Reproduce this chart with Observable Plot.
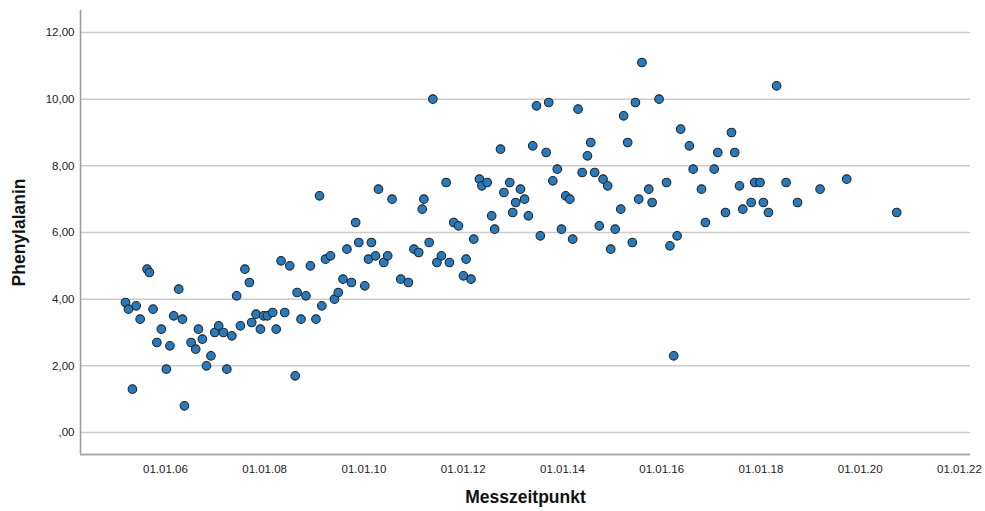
<!DOCTYPE html>
<html>
<head>
<meta charset="utf-8">
<script src="https://cdn.jsdelivr.net/npm/d3@7"></script>
<script src="https://cdn.jsdelivr.net/npm/@observablehq/plot@0.6"></script>
<style>
  html, body { margin: 0; padding: 0; background: #ffffff; }
  #chart { width: 985px; height: 511px; }
</style>
</head>
<body>
<div id="chart"></div>
<script>
const dates = [
  "2005-03-13","2005-04-04","2005-05-03","2005-05-31","2005-06-29","2005-08-19","2005-09-05","2005-10-02","2005-10-30","2005-12-02",
  "2006-01-08","2006-02-03","2006-03-03","2006-04-09","2006-05-06","2006-05-21","2006-07-09","2006-08-12","2006-09-01","2006-09-30",
  "2006-10-30","2006-12-02","2006-12-30","2007-01-28","2007-03-04","2007-03-29","2007-05-05","2007-06-09","2007-07-07","2007-08-09",
  "2007-09-11","2007-09-28","2007-10-30","2007-12-01","2007-12-25","2008-01-21","2008-02-29","2008-03-26","2008-05-01","2008-05-28",
  "2008-07-04","2008-08-13","2008-08-27","2008-09-25","2008-10-31","2008-12-03","2009-01-13","2009-02-25","2009-03-24","2009-02-08",
  "2009-04-30","2009-05-29","2009-06-26","2009-07-31","2009-08-29","2009-10-01","2009-11-01","2009-11-24","2010-01-07","2010-02-03",
  "2010-02-25","2010-03-27","2010-04-18","2010-05-27","2010-06-25","2010-07-27","2010-09-29","2010-11-24","2011-01-04","2011-02-08",
  "2011-03-06","2011-03-18","2011-04-26","2011-05-23","2011-06-22","2011-07-25","2011-08-29","2011-09-22","2011-10-24","2011-11-28",
  "2012-01-03","2012-01-23","2012-02-28","2012-03-19","2012-04-30","2012-05-18","2012-06-26","2012-07-29","2012-08-20","2012-10-02",
  "2012-10-27","2012-12-09","2012-12-31","2013-01-22","2013-02-26","2013-03-28","2013-04-25","2013-05-27","2013-06-24","2013-07-22",
  "2013-09-03","2013-09-22","2013-10-22","2013-11-24","2013-12-25","2014-01-25","2014-02-24","2014-03-17","2014-04-26","2014-05-26",
  "2014-07-04","2014-07-28","2014-08-26","2014-09-29","2014-10-27","2014-11-30","2014-12-22","2015-01-24","2015-03-06","2015-03-27",
  "2015-04-26","2015-05-30","2015-06-22","2015-07-16","2015-08-09","2015-09-28","2015-10-23","2015-12-13","2016-02-06","2016-03-02",
  "2016-03-30","2016-04-24","2016-05-20","2016-07-23","2016-08-20","2016-10-20","2016-11-18","2017-01-22","2017-02-17","2017-04-15",
  "2017-05-29","2017-06-22","2017-07-27","2017-08-20","2017-10-21","2017-11-16","2017-12-25","2018-01-19","2018-02-25","2018-04-26",
  "2018-07-05","2018-09-27","2019-03-12","2019-09-24","2020-09-26"
];

// Phenylalanin values
const phenylalanin = [
  3.9, 3.7, 1.3, 3.8, 3.4, 4.9, 4.8, 3.7, 2.7, 3.1,
  1.9, 2.6, 3.5, 4.3, 3.4, 0.8, 2.7, 2.5, 3.1, 2.8,
  2.0, 2.3, 3.0, 3.2, 3.0, 1.9, 2.9, 4.1, 3.2, 4.9,
  4.5, 3.3, 3.55, 3.1, 3.5, 3.5, 3.6, 3.1, 5.15, 3.6,
  5.0, 1.7, 4.2, 3.4, 4.1, 5.0, 3.4, 3.8, 5.2, 7.1,
  5.3, 4.0, 4.2, 4.6, 5.5, 4.5, 6.3, 5.7, 4.4, 5.2,
  5.7, 5.3, 7.3, 5.1, 5.3, 7.0, 4.6, 4.5, 5.5, 5.4,
  6.7, 7.0, 5.7, 10.0, 5.1, 5.3, 7.5, 5.1, 6.3, 6.2,
  4.7, 5.2, 4.6, 5.8, 7.6, 7.4, 7.5, 6.5, 6.1, 8.5,
  7.2, 7.5, 6.6, 6.9, 7.3, 7.0, 6.5, 8.6, 9.8, 5.9,
  8.4, 9.9, 7.55, 7.9, 6.1, 7.1, 7.0, 5.8, 9.7, 7.8,
  8.3, 8.7, 7.8, 6.2, 7.6, 7.4, 5.5, 6.1, 6.7, 9.5,
  8.7, 5.7, 9.9, 7.0, 11.1, 7.3, 6.9, 10.0, 7.5, 5.6,
  2.3, 5.9, 9.1, 8.6, 7.9, 7.3, 6.3, 7.9, 8.4, 6.6,
  9.0, 8.4, 7.4, 6.7, 6.9, 7.5, 7.5, 6.9, 6.6, 10.4,
  7.5, 6.9, 7.3, 7.6, 6.6
];

// Axis ticks
const xTickDates = ["2006-01-01","2008-01-01","2010-01-01","2012-01-01","2014-01-01","2016-01-01","2018-01-01","2020-01-01","2022-01-01"];
const yTickValues = [0, 2, 4, 6, 8, 10, 12];
const xDomainDates = ["2004-04-16", "2022-03-23"];
const yDomain = [-0.66, 12.66];

const data = dates.map((d, i) => ({date: new Date(d), value: phenylalanin[i]}));
const xTicks = xTickDates.map(d => new Date(d));
const xDomain = xDomainDates.map(d => new Date(d));

const yFmt = v => (v === 0 ? ",00" : v.toFixed(2).replace(".", ","));
const xFmt = d3.utcFormat("%d.%m.%y");

const chart = Plot.plot({
  width: 985,
  height: 511,
  marginLeft: 80,
  marginRight: 15,
  marginTop: 10,
  marginBottom: 57,
  style: {
    fontFamily: "'Liberation Sans', Arial, sans-serif",
    fontSize: "11.5px",
    color: "#222222",
    background: "#ffffff"
  },
  x: {type: "utc", domain: xDomain},
  y: {domain: yDomain},
  marks: [
    Plot.gridY(yTickValues, {stroke: "#cccccc", strokeOpacity: 1, strokeWidth: 1.5}),
    Plot.ruleX([xDomain[0]], {stroke: "#999999", strokeWidth: 1.5}),
    Plot.ruleY([yDomain[0]], {stroke: "#a8a8a8", strokeWidth: 2}),
    Plot.axisY(yTickValues, {
      tickSize: 0, tickPadding: 6, tickFormat: yFmt,
      label: "Phenylalanin", labelAnchor: "center", labelOffset: 68, labelArrow: "none"
    }),
    Plot.axisX(xTicks, {
      tickSize: 0, tickPadding: 10, tickFormat: xFmt,
      label: "Messzeitpunkt", labelAnchor: "center", labelOffset: 48, labelArrow: "none"
    }),
    Plot.dot(data, {x: "date", y: "value", r: 4.3, fill: "#2a7ab9", stroke: "#1b2733", strokeWidth: 1.1})
  ]
});

chart.querySelectorAll('g[aria-label="x-axis label"], g[aria-label="y-axis label"]').forEach(g => {
  g.setAttribute("font-size", "17.5px");
  g.setAttribute("font-weight", "bold");
  g.setAttribute("fill", "#111111");
  g.style.fontSize = "17.5px";
  g.style.fontWeight = "bold";
});

document.getElementById("chart").appendChild(chart);
</script>
</body>
</html>
